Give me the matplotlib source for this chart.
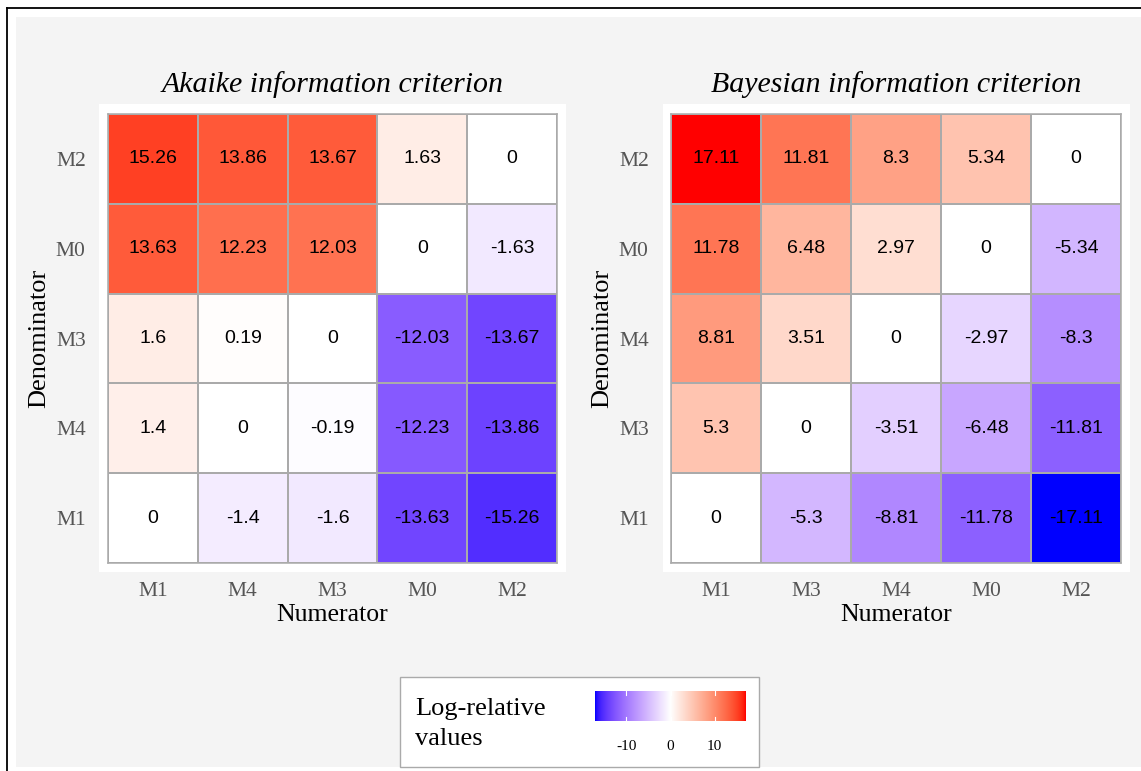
import numpy as np
import matplotlib
matplotlib.use("Agg")
import matplotlib.pyplot as plt
from matplotlib.colors import ListedColormap, Normalize
from matplotlib.patches import Rectangle
from matplotlib.lines import Line2D

# ---- data -------------------------------------------------------------
aic_rows = ["M2", "M0", "M3", "M4", "M1"]
aic_cols = ["M1", "M4", "M3", "M0", "M2"]
aic_values = [
    [15.26, 13.86, 13.67, 1.63, 0],
    [13.63, 12.23, 12.03, 0, -1.63],
    [1.6, 0.19, 0, -12.03, -13.67],
    [1.4, 0, -0.19, -12.23, -13.86],
    [0, -1.4, -1.6, -13.63, -15.26],
]

bic_rows = ["M2", "M0", "M4", "M3", "M1"]
bic_cols = ["M1", "M3", "M4", "M0", "M2"]
bic_values = [
    [17.11, 11.81, 8.3, 5.34, 0],
    [11.78, 6.48, 2.97, 0, -5.34],
    [8.81, 3.51, 0, -2.97, -8.3],
    [5.3, 0, -3.51, -6.48, -11.81],
    [0, -5.3, -8.81, -11.78, -17.11],
]

legend_ticks = [-10, 0, 10]

titles = ["Akaike information criterion", "Bayesian information criterion"]
x_label = "Numerator"
y_label = "Denominator"
legend_title = "Log-relative\nvalues"


# ---- diverging colour scale interpolated in CIE Lab -------------------
def srgb_to_lab(rgb):
    c = np.asarray(rgb, dtype=float)
    lin = np.where(c <= 0.04045, c / 12.92, ((c + 0.055) / 1.055) ** 2.4)
    m = np.array([[0.4124564, 0.3575761, 0.1804375],
                  [0.2126729, 0.7151522, 0.0721750],
                  [0.0193339, 0.1191920, 0.9503041]])
    xyz = lin @ m.T / np.array([0.95047, 1.0, 1.08883])
    d = 6 / 29
    f = np.where(xyz > d ** 3, np.cbrt(xyz), xyz / (3 * d * d) + 4 / 29)
    L = 116 * f[..., 1] - 16
    a = 500 * (f[..., 0] - f[..., 1])
    b = 200 * (f[..., 1] - f[..., 2])
    return np.stack([L, a, b], axis=-1)


def lab_to_srgb(lab):
    lab = np.asarray(lab, dtype=float)
    fy = (lab[..., 0] + 16) / 116
    fx = fy + lab[..., 1] / 500
    fz = fy - lab[..., 2] / 200
    d = 6 / 29
    f = np.stack([fx, fy, fz], axis=-1)
    xyz = np.where(f > d, f ** 3, 3 * d * d * (f - 4 / 29))
    xyz = xyz * np.array([0.95047, 1.0, 1.08883])
    minv = np.array([[3.2404542, -1.5371385, -0.4985314],
                     [-0.9692660, 1.8760108, 0.0415560],
                     [0.0556434, -0.2040259, 1.0572252]])
    lin = xyz @ minv.T
    lin = np.clip(lin, 0, 1)
    c = np.where(lin <= 0.0031308, 12.92 * lin, 1.055 * lin ** (1 / 2.4) - 0.055)
    return np.clip(c, 0, 1)


def diverging_lab(low, mid, high, n=256):
    lo, md, hi = srgb_to_lab(low), srgb_to_lab(mid), srgb_to_lab(high)
    t = np.linspace(0, 1, n)[:, None]
    first = lab_to_srgb(lo + (md - lo) * t)
    second = lab_to_srgb(md + (hi - md) * t)
    return ListedColormap(np.vstack([first, second[1:]]))


cmap = diverging_lab((0, 0, 1), (1, 1, 1), (1, 0, 0))
vmax = max(np.abs(aic_values).max(), np.abs(bic_values).max())
norm = Normalize(-vmax, vmax)

# ---- figure -----------------------------------------------------------
W, H = 1141, 771
fig = plt.figure(figsize=(W / 100, H / 100), dpi=100, facecolor="white")

SERIF = ["Liberation Serif", "DejaVu Serif"]
SANS = ["Liberation Sans", "DejaVu Sans"]


def fx(px):
    return px / W


def fy(py):
    return 1 - py / H


def frect(x0, y0, x1, y1, **kw):
    r = Rectangle((fx(x0), fy(y1)), fx(x1) - fx(x0), fy(y0) - fy(y1),
                  transform=fig.transFigure, **kw)
    fig.add_artist(r)
    return r


# page background and frame
frect(16, 17, W + 5, 767, facecolor="#f4f4f4", edgecolor="none", zorder=-10)
fig.add_artist(Line2D([fx(7), fx(7)], [fy(8), fy(H + 5)], transform=fig.transFigure,
                      color="black", lw=1.3, zorder=-5))
fig.add_artist(Line2D([fx(7), fx(W + 5)], [fy(8), fy(8)], transform=fig.transFigure,
                      color="black", lw=1.3, zorder=-5))

panels = [
    (aic_values, aic_rows, aic_cols, titles[0], (108, 114, 557, 563), (99, 104, 566, 572)),
    (bic_values, bic_rows, bic_cols, titles[1], (671, 114, 1121, 563), (663, 104, 1130, 572)),
]

for vals, rows, cols, title, (x0, y0, x1, y1), (bx0, by0, bx1, by1) in panels:
    frect(bx0, by0, bx1, by1, facecolor="white", edgecolor="none", zorder=-4)
    ax = fig.add_axes([fx(x0), fy(y1), fx(x1) - fx(x0), fy(y0) - fy(y1)])
    arr = np.array(vals, dtype=float)
    ax.pcolormesh(arr, cmap=cmap, norm=norm, edgecolors="#aaaaaa", linewidth=1.1)
    ax.set_xlim(0, len(cols))
    ax.set_ylim(len(rows), 0)
    for i in range(len(rows)):
        for j in range(len(cols)):
            ax.text(j + 0.5, i + 0.5, f"{vals[i][j]:g}", ha="center", va="center",
                    fontsize=14, family=SANS, color="black")
    ax.set_xticks(np.arange(len(cols)) + 0.5)
    ax.set_xticklabels(cols)
    ax.set_yticks(np.arange(len(rows)) + 0.5)
    ax.set_yticklabels(rows)
    ax.tick_params(axis="y", length=0, pad=16, labelsize=15.5, labelcolor="#555555")
    ax.tick_params(axis="x", length=0, pad=14, labelsize=15.5, labelcolor="#555555")
    for lab in ax.get_xticklabels() + ax.get_yticklabels():
        lab.set_family(SERIF)
    for s in ax.spines.values():
        s.set_color("#aaaaaa")
        s.set_linewidth(1.1)
    ax.set_title(title, fontsize=21.5, family=SERIF, style="italic", pad=16)
    ax.set_xlabel(x_label, fontsize=18.5, family=SERIF, labelpad=2)
    ax.set_ylabel(y_label, fontsize=19, family=SERIF, labelpad=4)

# legend box with colour bar
frect(400, 677, 759, 767, facecolor="white", edgecolor="#aaaaaa", lw=1.0, zorder=-3)
fig.text(fx(415), fy(724), legend_title, fontsize=19, family=SERIF,
         ha="left", va="center", linespacing=1.45)
cax = fig.add_axes([fx(595), fy(721), fx(746) - fx(595), fy(691) - fy(721)])
grad = np.linspace(-vmax, vmax, 512)[None, :]
cax.imshow(grad, cmap=cmap, norm=norm, aspect="auto", extent=(-vmax, vmax, 0, 1))
cax.set_xlim(-vmax, vmax)
cax.set_ylim(0, 1)
cax.set_yticks([])
cax.set_xticks(legend_ticks)
cax.set_xticklabels([str(t) for t in legend_ticks])
cax.tick_params(axis="x", length=0, pad=14, labelsize=11)
for lab in cax.get_xticklabels():
    lab.set_family(SERIF)
for t in legend_ticks:
    cax.plot([t, t], [0, 0.12], color="white", lw=0.8)
    cax.plot([t, t], [0.88, 1], color="white", lw=0.8)
for s in cax.spines.values():
    s.set_visible(False)

fig.savefig("out.png", dpi=100, facecolor=fig.get_facecolor())
